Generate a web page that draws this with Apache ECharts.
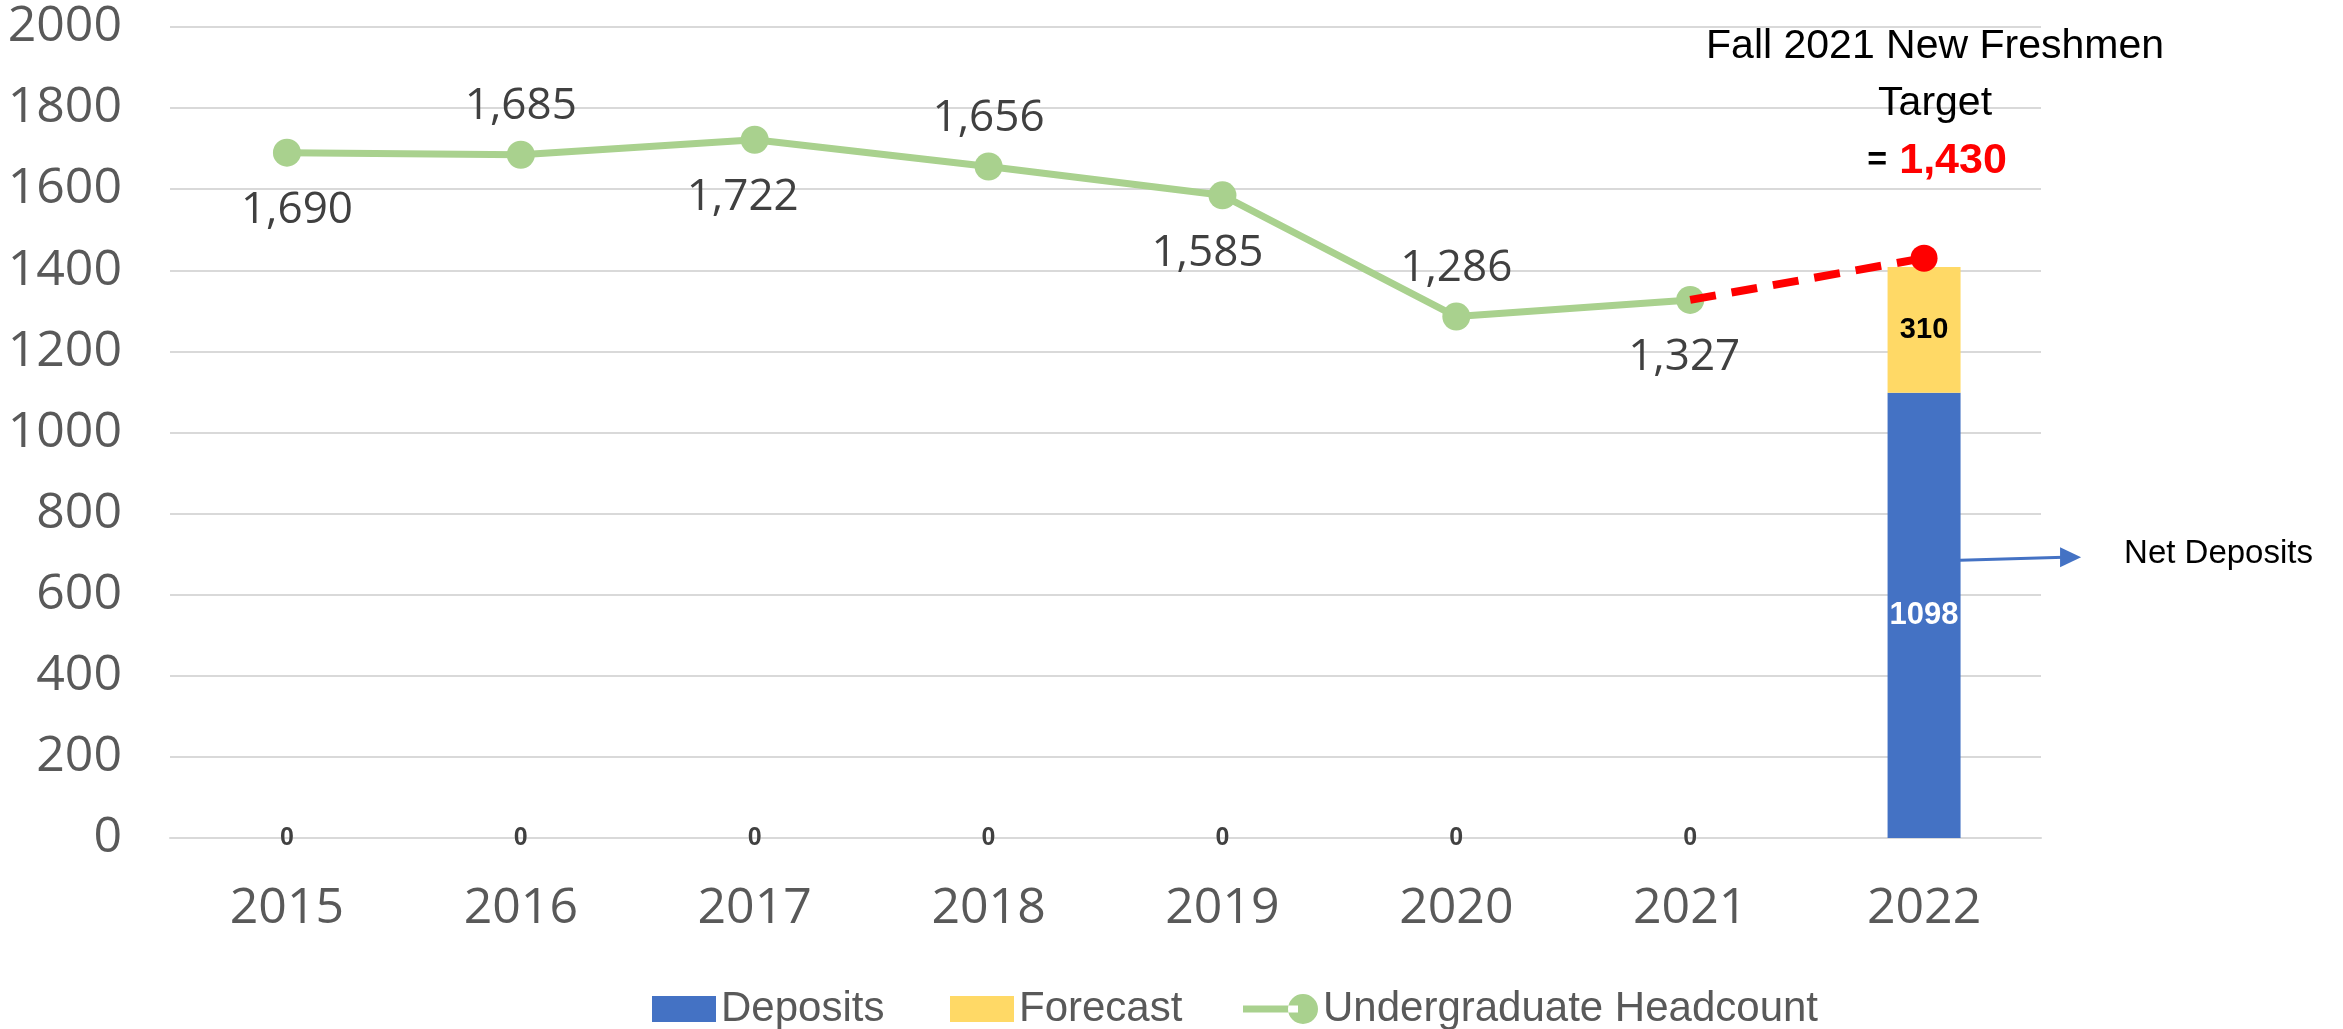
<!DOCTYPE html>
<html>
<head>
<meta charset="utf-8">
<script src="https://cdn.jsdelivr.net/npm/echarts@6/dist/echarts.min.js"></script>
<style>
  html, body { margin: 0; padding: 0; background: #fff; }
  #chart { width: 2343px; height: 1029px; }
</style>
</head>
<body>
<div id="chart"></div>
<script>
  // data
  const years = ['2015', '2016', '2017', '2018', '2019', '2020', '2021', '2022']
  const deposits = [0, 0, 0, 0, 0, 0, 0, 1098]
  const forecast = [null, null, null, null, null, null, null, 310]
  const headcount = [1690, 1685, 1722, 1656, 1585, 1286, 1327, null]
  const target = [null, null, null, null, null, null, 1327, 1430]
  const labelSides = ['bottom', 'top', 'bottom', 'top', 'bottom', 'top', 'bottom', 'top']
  const labelShift = [10, 0, -12, 0, -15, 0, -6, 0]
  const yMin = 0, yMax = 2000, yStep = 200

  const myChart = echarts.init(document.getElementById('chart'))
  const fmt = v => Number(v).toLocaleString('en-US')

  // zero bars get a small dark label on the baseline, the real bar a white one
  const depositData = deposits.map(v => ({
    value: v,
    label: v === 0
      ? { color: '#404040', fontSize: 25, fontWeight: 'bold' }
      : { color: '#fff', fontSize: 31, fontWeight: 'bold' }
  }))

  const headData = headcount.map((v, i) => ({
    value: v,
    label: {
      position: labelSides[i],
      distance: labelSides[i] === 'top' ? 12 : 22,
      offset: [labelShift[i], 0]
    }
  }))

  const targetData = target.map((v, i) => ({
    value: v,
    symbol: i === target.length - 1 ? 'circle' : 'none'
  }))

  const legendText = { color: '#595959', fontFamily: 'Liberation Sans', fontSize: 42 }

  const option = {
    animation: false,
    grid: { left: 170, right: 302, top: 27, bottom: 191 },
    xAxis: {
      type: 'category',
      data: years,
      axisTick: { show: false },
      axisLine: { lineStyle: { color: '#D9D9D9', width: 2 } },
      axisLabel: {
        color: '#595959', fontFamily: 'Open Sans', fontSize: 50,
        lineHeight: 50, margin: 46
      }
    },
    yAxis: {
      type: 'value',
      min: yMin, max: yMax, interval: yStep,
      axisLine: { show: false },
      axisTick: { show: false },
      splitLine: { lineStyle: { color: '#D9D9D9', width: 2 } },
      axisLabel: {
        color: '#595959', fontFamily: 'Open Sans', fontSize: 50, margin: 48,
        formatter: v => String(v)
      }
    },
    legend: [
      {
        data: ['Deposits'], left: 647, top: 983,
        itemWidth: 64, itemHeight: 26, icon: 'rect', textStyle: legendText
      },
      {
        data: ['Forecast'], left: 945, top: 983,
        itemWidth: 64, itemHeight: 26, icon: 'rect', textStyle: legendText
      },
      {
        data: ['Undergraduate Headcount'], left: 1238, top: 983,
        itemWidth: 75, itemHeight: 31,
        icon: 'path://M0,12 L55,12 L55,19 L0,19 Z M45,15.5 A15,15 0 1 0 75,15.5 A15,15 0 1 0 45,15.5 Z',
        textStyle: legendText
      }
    ],
    series: [
      {
        name: 'Deposits',
        type: 'bar',
        stack: 'total',
        barWidth: 73,
        itemStyle: { color: '#4472C4' },
        label: {
          show: true, position: 'inside', fontFamily: 'Liberation Sans',
          formatter: p => p.value
        },
        data: depositData
      },
      {
        name: 'Forecast',
        type: 'bar',
        stack: 'total',
        barWidth: 73,
        itemStyle: { color: '#FFD966' },
        label: {
          show: true, position: 'inside', color: '#000',
          fontFamily: 'Liberation Sans', fontSize: 29, fontWeight: 'bold'
        },
        data: forecast
      },
      {
        name: 'Undergraduate Headcount',
        type: 'line',
        symbol: 'circle',
        symbolSize: 28,
        z: 3,
        itemStyle: { color: '#A9D18E' },
        lineStyle: { color: '#A9D18E', width: 7 },
        label: {
          show: true, color: '#404040', fontFamily: 'Open Sans', fontSize: 44,
          formatter: p => fmt(p.value)
        },
        data: headData
      },
      {
        name: 'Target',
        type: 'line',
        symbolSize: 27,
        z: 4,
        itemStyle: { color: '#FF0000' },
        lineStyle: { color: '#FF0000', width: 8, type: [26, 16] },
        data: targetData
      }
    ]
  }
  myChart.setOption(option)

  // annotations tied to the 2022 column
  const colPt = myChart.convertToPixel({ gridIndex: 0 }, ['2022', 0])
  const arrowPt = myChart.convertToPixel({ gridIndex: 0 }, ['2022', 690])
  const cx = colPt[0] + 11
  const barRight = arrowPt[0] + 36
  myChart.setOption({
    graphic: [
      {
        type: 'text', x: cx, y: 47,
        style: {
          text: 'Fall 2021 New Freshmen', fill: '#000',
          font: '41px "Liberation Sans"', textAlign: 'center', textVerticalAlign: 'middle'
        }
      },
      {
        type: 'text', x: cx, y: 104,
        style: {
          text: 'Target', fill: '#000',
          font: '41px "Liberation Sans"', textAlign: 'center', textVerticalAlign: 'middle'
        }
      },
      {
        type: 'text', x: cx - 4, y: 161,
        style: {
          text: '{eq|=}{num|1,430}',
          textAlign: 'center', textVerticalAlign: 'middle',
          rich: {
            eq: { fill: '#000', fontFamily: 'Liberation Sans', fontSize: 34, fontWeight: 'bold', width: 44 },
            num: { fill: '#FF0000', fontFamily: 'Liberation Sans', fontSize: 43, fontWeight: 'bold' }
          }
        }
      },
      {
        type: 'line',
        shape: { x1: barRight, y1: arrowPt[1] + 2, x2: barRight + 104, y2: arrowPt[1] - 1 },
        style: { stroke: '#4472C4', lineWidth: 3 }
      },
      {
        type: 'polygon',
        shape: {
          points: [
            [barRight + 100, arrowPt[1] - 11],
            [barRight + 121, arrowPt[1] - 1],
            [barRight + 100, arrowPt[1] + 9]
          ]
        },
        style: { fill: '#4472C4' }
      },
      {
        type: 'text', x: barRight + 164, y: arrowPt[1] - 4,
        style: {
          text: 'Net Deposits', fill: '#000',
          font: '33px "Liberation Sans"', textAlign: 'left', textVerticalAlign: 'middle'
        }
      }
    ]
  })
</script>
</body>
</html>
